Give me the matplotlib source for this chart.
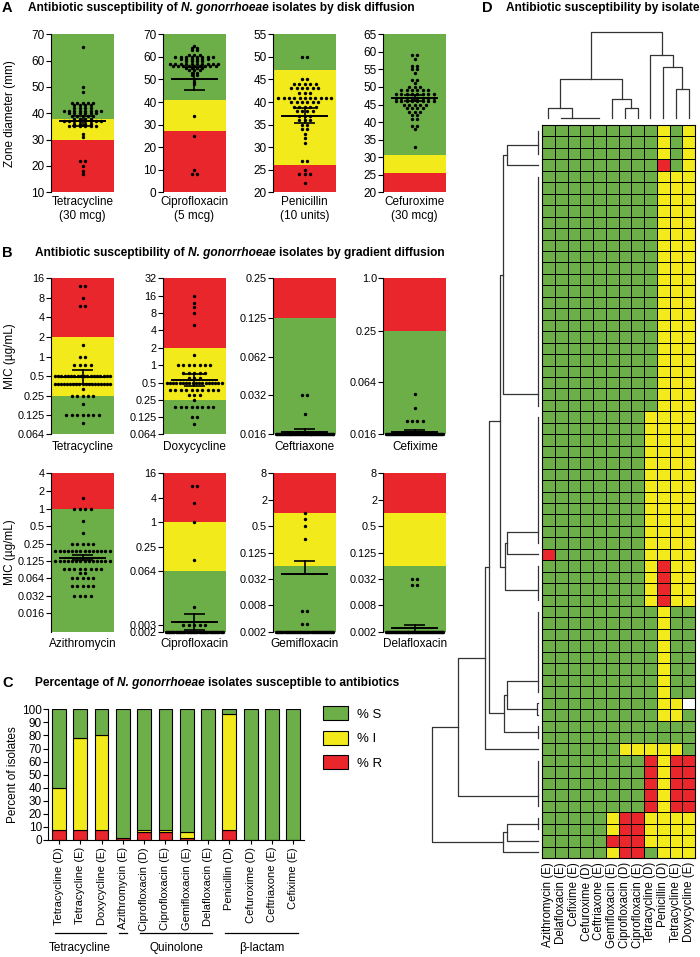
import numpy as np
import matplotlib
matplotlib.use("Agg")
import matplotlib.pyplot as plt
import matplotlib.transforms as mtrans
from matplotlib.colors import ListedColormap
from matplotlib.patches import Patch
from matplotlib.ticker import NullLocator

plt.rcParams['font.family'] = ['Liberation Sans', 'DejaVu Sans']

GREEN = '#6cae48'
YELLOW = '#f2ea1b'
RED = '#e8262b'
W, H = 700, 957

# ---------------- A: disk diffusion, zone diameter (mm) -> number of isolates
disk_names = ["Tetracycline\n(30 mcg)", "Ciprofloxacin\n(5 mcg)",
              "Penicillin\n(10 units)", "Cefuroxime\n(30 mcg)"]
tet_d_vals = [65, 50, 48, 44, 43, 42, 41, 40, 39, 38, 37, 36, 35, 32, 31, 22, 20, 18, 17]
tet_d_cnt = [1, 1, 1, 5, 4, 4, 8, 6, 5, 4, 8, 4, 6, 1, 1, 2, 1, 1, 1]
cip_d_vals = [65, 64, 63, 61, 60, 59, 58, 57, 56, 55, 54, 53, 52, 50, 49, 48, 34, 25, 10, 8]
cip_d_cnt = [1, 2, 2, 3, 8, 6, 4, 10, 9, 4, 3, 2, 2, 1, 1, 1, 1, 1, 1, 2]
pen_d_vals = [50, 45, 44, 43, 42, 41, 40, 39, 38, 37, 36, 35, 34, 33, 32, 31, 27, 25, 24, 22]
pen_d_cnt = [2, 2, 5, 6, 3, 11, 6, 5, 4, 3, 3, 2, 2, 1, 1, 1, 2, 1, 3, 1]
cxm_d_vals = [59, 58, 56, 55, 54, 52, 51, 50, 49, 48, 47, 46, 45, 44, 43, 42, 41, 39, 38, 33]
cxm_d_cnt = [2, 1, 2, 2, 1, 2, 1, 3, 6, 8, 8, 8, 5, 4, 3, 2, 2, 2, 1, 1]
disk_data = [(tet_d_vals, tet_d_cnt), (cip_d_vals, cip_d_cnt),
             (pen_d_vals, pen_d_cnt), (cxm_d_vals, cxm_d_cnt)]
disk_ylim = [(10, 70), (0, 70), (20, 55), (20, 65)]
disk_ystep = [10, 10, 5, 5]
disk_bp = [(30, 38), (27, 41), (26, 47), (25.5, 30.5)]   # R below / S above
disk_mean = [(37.1, 35.3, 38.9), (50.4, 45.4, 55.6), (37.0, 35.4, 38.6), (46.8, 45.9, 47.7)]

# ---------------- B: gradient diffusion MIC (ug/mL) -> number of isolates
etest_names = ["Tetracycline", "Doxycycline", "Ceftriaxone", "Cefixime",
               "Azithromycin", "Ciprofloxacin", "Gemifloxacin", "Delafloxacin"]
tet_e_vals = [12, 8, 6, 1.5, 1, 0.75, 0.5, 0.38, 0.32, 0.25, 0.19, 0.125, 0.094]
tet_e_cnt = [2, 1, 2, 1, 2, 4, 18, 19, 1, 5, 1, 7, 1]
dox_e_vals = [16, 12, 10, 8, 5, 1.5, 1, 0.75, 0.6, 0.5, 0.38, 0.31, 0.25, 0.19, 0.13, 0.097]
dox_e_cnt = [1, 1, 1, 1, 1, 1, 7, 5, 3, 18, 10, 3, 1, 8, 2, 1]
cro_e_vals = [0.032, 0.023, 0.016]
cro_e_cnt = [2, 1, 61]
cfm_e_vals = [0.047, 0.032, 0.023, 0.016]
cfm_e_cnt = [1, 1, 4, 58]
azm_e_vals = [1.5, 1, 0.6, 0.38, 0.25, 0.19, 0.125, 0.094, 0.08, 0.064, 0.047, 0.032]
azm_e_cnt = [1, 4, 1, 1, 5, 14, 14, 8, 2, 5, 5, 4]
cip_e_vals = [8, 3, 1, 0.12, 0.008, 0.003, 0.002]
cip_e_cnt = [2, 1, 1, 1, 1, 5, 53]
gem_e_vals = [1, 0.75, 0.5, 0.25, 0.006, 0.003, 0.002]
gem_e_cnt = [1, 1, 1, 1, 2, 2, 56]
dlx_e_vals = [0.032, 0.023, 0.002]
dlx_e_cnt = [2, 2, 60]
etest_data = [(tet_e_vals, tet_e_cnt), (dox_e_vals, dox_e_cnt), (cro_e_vals, cro_e_cnt),
              (cfm_e_vals, cfm_e_cnt), (azm_e_vals, azm_e_cnt), (cip_e_vals, cip_e_cnt),
              (gem_e_vals, gem_e_cnt), (dlx_e_vals, dlx_e_cnt)]
etest_ylim = [(0.064, 16), (0.064, 32), (0.016, 0.25), (0.016, 1.0),
              (1 / 128, 4), (0.002, 16), (0.002, 8), (0.002, 8)]
etest_ticks = [["0.064", "0.125", "0.25", "0.5", "1", "2", "4", "8", "16"],
               ["0.064", "0.125", "0.25", "0.5", "1", "2", "4", "8", "16", "32"],
               ["0.016", "0.032", "0.062", "0.125", "0.25"],
               ["0.016", "0.064", "0.25", "1.0"],
               ["0.016", "0.032", "0.064", "0.125", "0.25", "0.5", "1", "2", "4"],
               ["0.002", "0.003", "0.064", "0.25", "1", "4", "16"],
               ["0.002", "0.008", "0.032", "0.125", "0.5", "2", "8"],
               ["0.002", "0.008", "0.032", "0.125", "0.5", "2", "8"]]
etest_bp = [(0.25, 2), (0.25, 2), (0.125, 0.125), (0.25, 0.25),
            (1, 1), (0.064, 1), (0.0625, 1), (0.0625, 1)]   # S below / R above
etest_mean = [(0.48, 0.38, 0.62), (0.56, 0.44, 0.72), (0.0167, 0.016, 0.0176),
              (0.0168, 0.016, 0.0177), (0.145, 0.13, 0.16), (0.0035, 0.0022, 0.0056),
              (0.042, 0.042, 0.082), (0.0024, 0.002, 0.0028)]

# ---------------- C: percentages
pct_labels = ["Tetracycline (D)", "Tetracycline (E)", "Doxycycline (E)", "Azithromycin (E)",
              "Ciprofloxacin (D)", "Ciprofloxacin (E)", "Gemifloxacin (E)", "Delafloxacin (E)",
              "Penicillin (D)", "Cefuroxime (D)", "Ceftriaxone (E)", "Cefixime (E)"]
pct_R = [7.5, 7.5, 7.5, 1.5, 6.0, 6.0, 1.5, 0, 7.5, 0, 0, 0]
pct_I = [32.5, 70.5, 73.0, 0, 1.5, 1.5, 4.5, 0, 89.0, 0, 0, 0]
pct_S = [100 - r - i for r, i in zip(pct_R, pct_I)]
drug_groups = [("Tetracycline", 0, 2), ("", 3, 3), ("Quinolone", 4, 7), ("β-lactam", 8, 11)]

# ---------------- D: heatmap by isolate (G=S, Y=I, R=R, W=missing), pattern and repeat count
hm_cols = ["Azithromycin (E)", "Delafloxacin (E)", "Cefixime (E)", "Cefuroxime (D)",
           "Ceftriaxone (E)", "Gemifloxacin (E)", "Ciprofloxacin (D)", "Ciprofloxacin (E)",
           "Tetracycline (D)", "Penicillin (D)", "Tetracycline (E)", "Doxycycline (E)"]
row_patterns = ["GGGGGGGGGYGY", "GGGGGGGGGRGY", "GGGGGGGGGYYY", "GGGGGGGGYYYY",
                "RGGGGGGGYYYY", "GGGGGGGGYRYY", "GGGGGGGGGYGG", "GGGGGGGGGYYW",
                "GGGGGGGGGYYG", "GGGGGGGGGGGG", "GGGGGGYYYYYG", "GGGGGGGGRYRR",
                "GGGGGYRRYYYY", "GGGGGRRRYYYY", "GGGGGYRRGYYY"]
row_repeats = [3, 1, 21, 12, 1, 4, 8, 1, 1, 2, 1, 5, 2, 1, 1]
# dendrograms: (height, left, right); ints are groups of identical leaves
row_tree = (106.3,
            (79.7, (53.0, (48.7, (38.0, (35.0, (31.3, 0, 1), 2), (33.0, (31.5, 3, 4), 5)),
                             (33.7, (31.3, 6, (1.0, 7, 8)), 9)), 10), 11),
            (35.3, (31.3, 12, 13), 14))
col_groups = [[0], [1, 2, 3, 4], [5], [6], [7], [8], [9], [10], [11]]
col_tree = (86.6, (39.3, (10.0, 0, 1), (19.3, 2, (10.0, 3, 4))),
            (63.3, 5, (51.6, 6, (29.0, 7, 8))))

fig = plt.figure(figsize=(7, 9.57), dpi=100)


def px_axes(x0, y0, x1, y1):
    return fig.add_axes([x0 / W, 1 - y1 / H, (x1 - x0) / W, (y1 - y0) / H])


renderer = fig.canvas.get_renderer()


def text_w(s, **kw):
    t = fig.text(0, 0, s, **kw)
    w = t.get_window_extent(renderer).width
    t.remove()
    return w


def rich_title(letter, lx, x, y, parts, size=8.6):
    fig.text(lx / W, 1 - y / H, letter, fontsize=10.5, fontweight='bold', va='center')
    sp = text_w("a a", fontsize=size, fontweight='bold') - text_w("aa", fontsize=size, fontweight='bold')
    for s, it in parts:
        kw = dict(fontsize=size, fontweight='bold', style='italic' if it else 'normal')
        fig.text(x / W, 1 - y / H, s, va='center', ha='left', **kw)
        x += text_w(s, **kw) + sp


def dots(ax, vals, cnts):
    xs, ys = [], []
    for v, n in zip(vals, cnts):
        dx = min(0.17, 1.85 / n)
        xs.extend((np.arange(n) - (n - 1) / 2) * dx)
        ys.extend([v] * n)
    ax.scatter(xs, ys, s=6, c='k', lw=0, zorder=3, clip_on=False)


def mean_bar(ax, m, lo, hi):
    ax.plot([-0.75, 0.75], [m, m], color='k', lw=1.4, zorder=4, solid_capstyle='butt')
    ax.plot([-0.33, 0.33], [lo, lo], color='k', lw=1.2, zorder=4, solid_capstyle='butt')
    ax.plot([-0.33, 0.33], [hi, hi], color='k', lw=1.2, zorder=4, solid_capstyle='butt')
    ax.plot([0, 0], [lo, hi], color='k', lw=1.2, zorder=4)


def style_dot_axes(ax, name, pad, tsize):
    ax.set_xlim(-1, 1)
    for s in ['top', 'right', 'bottom']:
        ax.spines[s].set_visible(False)
    ax.spines['left'].set_linewidth(0.8)
    ax.set_xticks([])
    ax.tick_params(axis='y', labelsize=tsize, length=3.5, width=0.8, pad=1)
    ax.annotate(name, (0.5, 0), xycoords='axes fraction', xytext=(0, pad),
                textcoords='offset points', ha='center', va='top', fontsize=8.5,
                linespacing=1.15)


# ---- panel A
rich_title("A", 2, 28, 8, [("Antibiotic susceptibility of", False), ("N. gonorrhoeae", True),
                           ("isolates by disk diffusion", False)])
ax_x = [51, 162.7, 273.3, 383.3]
for i in range(4):
    ax = px_axes(ax_x[i], 34.3, ax_x[i] + 63, 192.3)
    y0, y1 = disk_ylim[i]
    r, s = disk_bp[i]
    ax.axhspan(y0, r, color=RED, lw=0)
    ax.axhspan(r, s, color=YELLOW, lw=0)
    ax.axhspan(s, y1, color=GREEN, lw=0)
    dots(ax, *disk_data[i])
    mean_bar(ax, *disk_mean[i])
    ax.set_ylim(y0, y1)
    ax.set_yticks(np.arange(y0, y1 + 0.1, disk_ystep[i]))
    style_dot_axes(ax, disk_names[i], -3, 8.5)
    if i == 0:
        ax.set_ylabel("Zone diameter (mm)", fontsize=8.5)
        ax.yaxis.set_label_coords(-0.55, 0.5)

# ---- panel B
rich_title("B", 2, 35, 253, [("Antibiotic susceptibility of", False), ("N. gonorrhoeae", True),
                             ("isolates by gradient diffusion", False)])
rows_y = [(278.3, 434.3), (473.3, 631.7)]
for i in range(8):
    r_i, c_i = divmod(i, 4)
    ax = px_axes(ax_x[c_i], rows_y[r_i][0], ax_x[c_i] + 63, rows_y[r_i][1])
    ax.set_yscale('log', base=2)
    y0, y1 = etest_ylim[i]
    s, r = etest_bp[i]
    ax.axhspan(y0, s, color=GREEN, lw=0)
    if r > s:
        ax.axhspan(s, r, color=YELLOW, lw=0)
    ax.axhspan(r, y1, color=RED, lw=0)
    dots(ax, *etest_data[i])
    mean_bar(ax, *etest_mean[i])
    ax.set_ylim(y0, y1)
    ax.set_yticks([float(t) for t in etest_ticks[i]])
    ax.set_yticklabels(etest_ticks[i])
    ax.yaxis.set_minor_locator(NullLocator())
    style_dot_axes(ax, etest_names[i], -4.5, 7.8)
    if c_i == 0:
        ax.set_ylabel("MIC (µg/mL)", fontsize=8.5)
        ax.yaxis.set_label_coords(-0.56, 0.5)

# ---- panel C
rich_title("C", 2, 35, 683, [("Percentage of", False), ("N. gonorrhoeae", True),
                             ("isolates susceptible to antibiotics", False)])
axc = px_axes(48.3, 709.3, 304, 840)
xb = np.arange(len(pct_labels))
R = np.array(pct_R)
I = np.array(pct_I)
axc.bar(xb, R, width=0.65, color=RED, edgecolor='k', lw=0.8)
axc.bar(xb, I, bottom=R, width=0.65, color=YELLOW, edgecolor='k', lw=0.8)
axc.bar(xb, pct_S, bottom=R + I, width=0.65, color=GREEN, edgecolor='k', lw=0.8)
axc.set_xlim(-0.5, 11.5)
axc.set_ylim(0, 100)
axc.set_yticks(range(0, 101, 10))
axc.set_xticks(xb)
axc.set_xticklabels(pct_labels, rotation=90, fontsize=8.0)
axc.tick_params(axis='y', labelsize=8.5, length=3.5, width=0.8, pad=1)
axc.tick_params(axis='x', length=3, width=0.8, pad=2)
for s in ['top', 'right']:
    axc.spines[s].set_visible(False)
for s in ['left', 'bottom']:
    axc.spines[s].set_linewidth(0.8)
axc.set_ylabel("Percent of isolates", fontsize=8.5)
axc.yaxis.set_label_coords(-0.115, 0.5)
tr = mtrans.blended_transform_factory(axc.transData, fig.transFigure)
for name, a, b in drug_groups:
    axc.plot([a - 0.2, b + 0.2], [1 - 933 / H] * 2, color='k', lw=0.9,
             transform=tr, clip_on=False)
    if name:
        axc.text((a + b) / 2, 1 - 948 / H, name, transform=tr, ha='center',
                 va='center', fontsize=8.5)
handles = [Patch(fc=GREEN, ec='k', lw=0.8, label='% S'),
           Patch(fc=YELLOW, ec='k', lw=0.8, label='% I'),
           Patch(fc=RED, ec='k', lw=0.8, label='% R')]
fig.legend(handles=handles, loc='upper left', bbox_to_anchor=(323 / W, 1 - 706 / H),
           frameon=False, fontsize=9.5, handlelength=1.9, handleheight=1.3,
           labelspacing=0.75, handletextpad=0.7, borderaxespad=0, borderpad=0)

# ---- panel D
rich_title("D", 482, 506, 8, [("Antibiotic susceptibility by isolate", False)])
code = {'G': 0, 'Y': 1, 'R': 2, 'W': 3}
rows = []
row_groups = []
for pat, n in zip(row_patterns, row_repeats):
    row_groups.append(list(range(len(rows), len(rows) + n)))
    rows.extend([[code[c] for c in pat]] * n)
mat = np.array(rows)
nr, nc = mat.shape
hm_top, hm_bot, hm_l, hm_r = 125, 858, 542, 695
axh = px_axes(hm_l, hm_top, hm_r, hm_bot)
axh.pcolormesh(np.arange(nc + 1), np.arange(nr + 1), mat,
               cmap=ListedColormap([GREEN, YELLOW, RED, 'white']), vmin=-0.5, vmax=3.5,
               edgecolors='k', linewidth=0.5)
axh.set_xlim(0, nc)
axh.set_ylim(nr, 0)
axh.set_yticks([])
axh.set_xticks(np.arange(nc) + 0.5)
axh.set_xticklabels(hm_cols, rotation=90, fontsize=8.3)
axh.tick_params(axis='x', length=0, pad=3)
for s in axh.spines.values():
    s.set_linewidth(0.8)

DCOL = '#333333'


def group_pos(members, reverse):
    seq = members[::-1] if reverse else members
    p = seq[0] + 0.5
    for m in seq[1:]:
        p = (p + m + 0.5) / 2
    return p


def draw_tree(ax, node, groups, horiz, reverse):
    if isinstance(node, int):
        mem = groups[node]
        if len(mem) > 1:
            a, b = mem[0] + 0.5, mem[-1] + 0.5
            if horiz:
                ax.plot([0, 0], [a, b], color=DCOL, lw=0.9, clip_on=False)
            else:
                ax.plot([a, b], [0, 0], color=DCOL, lw=0.9, clip_on=False)
        return group_pos(mem, reverse), 0.0
    h, left, right = node
    pl, hl = draw_tree(ax, left, groups, horiz, reverse)
    pr, hr = draw_tree(ax, right, groups, horiz, reverse)
    xs = [hl, h, h, hr]
    ys = [pl, pl, pr, pr]
    if horiz:
        ax.plot(xs, ys, color=DCOL, lw=0.9, clip_on=False)
    else:
        ax.plot(ys, xs, color=DCOL, lw=0.9, clip_on=False)
    return (pl + pr) / 2, h


axr = px_axes(538 - row_tree[0], hm_top, 538, hm_bot)
draw_tree(axr, row_tree, row_groups, True, False)
axr.set_xlim(row_tree[0], 0)
axr.set_ylim(nr, 0)
axr.axis('off')

axd = px_axes(hm_l, 118.3 - col_tree[0], hm_r, 118.3)
draw_tree(axd, col_tree, col_groups, False, True)
axd.set_xlim(0, nc)
axd.set_ylim(0, col_tree[0])
axd.axis('off')

fig.savefig("out.png", dpi=100)
